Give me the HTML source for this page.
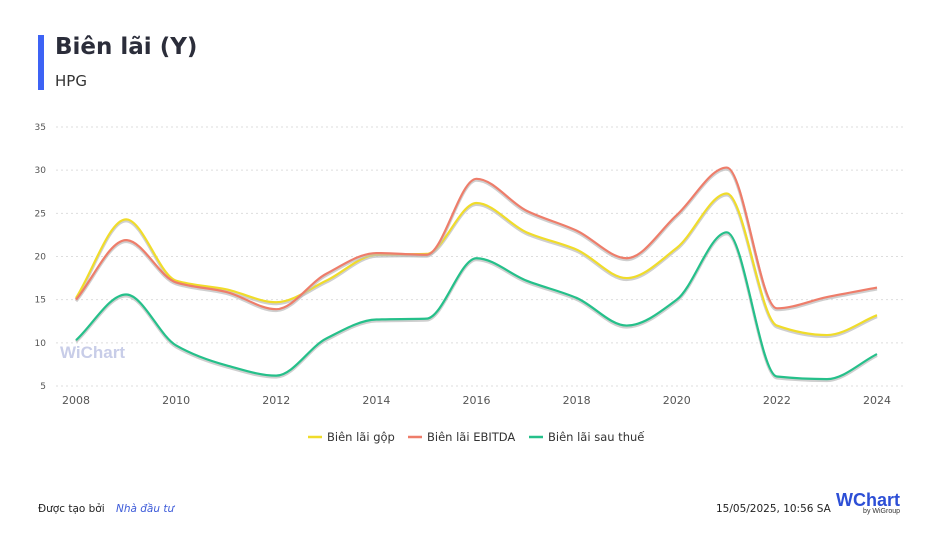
<!DOCTYPE html>
<html><head><meta charset="utf-8"><style>
body{margin:0;width:940px;height:538px;background:#fff;font-family:"Liberation Sans","DejaVu Sans",sans-serif;overflow:hidden;position:relative}
.t{position:absolute}
</style></head><body>
<div class="t" style="left:38px;top:35px;width:6px;height:55px;background:#3d63f5"></div>
<div class="t" style="left:55px;top:34px;font-size:23px;font-weight:bold;color:#2b2d3a;font-family:'DejaVu Sans',sans-serif">Biên lãi (Y)</div>
<div class="t" style="left:55px;top:72px;font-size:15px;color:#333;font-family:'DejaVu Sans',sans-serif">HPG</div>
<svg class="t" style="left:0;top:0" width="940" height="538" id="chart"></svg>
<div class="t" style="left:38px;top:503px;font-size:10.5px;color:#222;font-family:'DejaVu Sans',sans-serif">Được tạo bởi <a style="color:#3d5bd9;font-style:italic;margin-left:8px">Nhà đầu tư</a></div>
<div class="t" style="left:716px;top:503px;font-size:10.5px;color:#222;font-family:'DejaVu Sans',sans-serif">15/05/2025, 10:56 SA</div>
<div class="t" style="left:836px;top:490px;font-size:18px;font-weight:bold;color:#2d4fd6">W<span style="color:#2d4fd6">Chart</span><div style="font-size:7px;font-weight:normal;color:#333;text-align:right;margin-top:-3px">by WiGroup</div></div>
<script>
const years=[2008,2009,2010,2011,2012,2013,2014,2015,2016,2017,2018,2019,2020,2021,2022,2023,2024];
const gross=[15.2,24.3,17.2,16.2,14.7,17.2,20.2,20.3,26.2,22.8,20.8,17.5,21.0,27.3,12.0,10.9,13.2];
const ebitda=[15.0,21.9,17.0,15.9,13.9,18.0,20.4,20.2,29.0,25.3,23.0,19.8,24.8,30.3,14.0,15.3,16.4];
const netm=[10.3,15.6,9.7,7.4,6.2,10.5,12.7,12.8,19.8,17.2,15.2,12.0,15.0,22.8,6.1,5.8,8.7];
const yTicks=[5,10,15,20,25,30,35];
const xTicks=[2008,2010,2012,2014,2016,2018,2020,2022,2024];
const NS='http://www.w3.org/2000/svg';
const svg=document.getElementById('chart');
const X=v=>76+(v-2008)*(877-76)/16;
const Y=v=>386-(v-5)*(386-127)/30;
function mk(t,a){const e=document.createElementNS(NS,t);for(const k in a)e.setAttribute(k,a[k]);svg.appendChild(e);return e;}
yTicks.forEach(v=>{
 const l=mk('line',{x1:56,x2:903,y1:Y(v),y2:Y(v),stroke:'#ddd','stroke-dasharray':'2,3'});
 
 
 const t=mk('text',{x:46,y:Y(v)+3,'font-size':9,fill:'#555','text-anchor':'end','font-family':'DejaVu Sans'});
 t.textContent=v;
 
 
});
xTicks.forEach(v=>{
 const t=mk('text',{x:X(v),y:404,'font-size':11,fill:'#555','text-anchor':'middle','font-family':'DejaVu Sans'});
 t.textContent=v;
 
 
});
const wm=mk('text',{x:60,y:358,'font-size':17,'font-weight':'bold',fill:'#c8cde8','font-family':'Liberation Sans'});
wm.textContent='WiChart';


function path(vals){
 const p=vals.map((v,i)=>[X(years[i]),Y(v)]);
 const n=p.length,d=[],m=new Array(n);
 for(let i=0;i<n-1;i++)d.push((p[i+1][1]-p[i][1])/(p[i+1][0]-p[i][0]));
 m[0]=d[0];m[n-1]=d[n-2];
 for(let i=1;i<n-1;i++){
  if(d[i-1]*d[i]<=0)m[i]=0;
  else m[i]=2/(1/d[i-1]+1/d[i]);
 }
 let s='M'+p[0][0]+','+p[0][1];
 for(let i=0;i<n-1;i++){
  const h=(p[i+1][0]-p[i][0])/3;
  s+=`C${p[i][0]+h},${p[i][1]+m[i]*h} ${p[i+1][0]-h},${p[i+1][1]-m[i+1]*h} ${p[i+1][0]},${p[i+1][1]}`;
 }
 return s;
}
[[gross,'#f0dc2a','series-gross-margin'],[ebitda,'#ee7d6a','series-ebitda-margin'],[netm,'#25c08a','series-net-margin']].forEach(([v,c,n])=>{
 const s=mk('path',{d:path(v),fill:'none',stroke:'#bbb','stroke-width':3,transform:'translate(0,1.5)',opacity:0.7});
 
 
 const l=mk('path',{d:path(v),fill:'none',stroke:c,'stroke-width':2.2});
 
 
});
const leg=[['Biên lãi gộp','#f0dc2a',308],['Biên lãi EBITDA','#ee7d6a',408],['Biên lãi sau thuế','#25c08a',529]];
leg.forEach(([t,c,x])=>{
 const g=mk('g',{});
 
 
 const l=document.createElementNS(NS,'line');
 l.setAttribute('x1',x);l.setAttribute('x2',x+14);l.setAttribute('y1',437);l.setAttribute('y2',437);
 l.setAttribute('stroke',c);l.setAttribute('stroke-width',2.5);g.appendChild(l);
 const tx=document.createElementNS(NS,'text');
 tx.setAttribute('x',x+19);tx.setAttribute('y',441);tx.setAttribute('font-size',11.5);
 tx.setAttribute('fill','#333');tx.setAttribute('font-family','DejaVu Sans');tx.textContent=t;g.appendChild(tx);
});
</script>
</body></html>
